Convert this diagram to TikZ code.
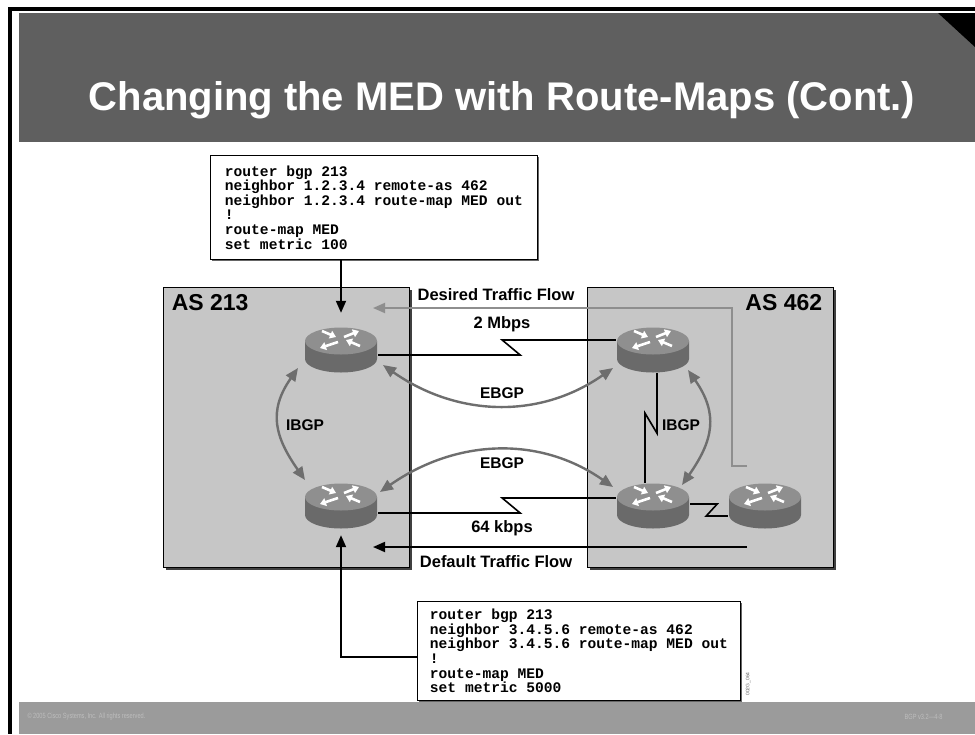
\documentclass[tikz,border=0pt]{standalone}
\usepackage{fontspec}
\setmainfont{Liberation Sans}
\newfontfamily\codefont{Liberation Mono}
\usetikzlibrary{arrows.meta,shadows}

\definecolor{hdrgray}{HTML}{5F5F5F}
\definecolor{ftrgray}{HTML}{9B9B9B}
\definecolor{ftrtext}{HTML}{BDBDBD}
\definecolor{asgray}{HTML}{C6C6C6}
\definecolor{bgpgray}{HTML}{6E6E6E}
\definecolor{flowgray}{HTML}{8E8E8E}
\definecolor{rtrtop}{HTML}{8F8F8F}
\definecolor{rtrside}{HTML}{6A6A6A}

\tikzset{
  router/.style={minimum width=74pt, minimum height=46pt, inner sep=0pt},
  rtrarrow/.style={white, line width=2.6pt, -{Triangle[length=6pt,width=8pt]}},
  asbox/.style={draw=black, line width=0.8pt, fill=asgray, minimum width=246pt, minimum height=280pt,
    drop shadow={shadow xshift=3pt, shadow yshift=-3pt, fill=black!75, opacity=1}},
  cfgbox/.style={draw=black, line width=0.8pt, fill=white, align=left, anchor=north west,
    font=\codefont\bfseries\fontsize{14.6}{14.6}\selectfont, inner xsep=12pt,
    drop shadow={shadow xshift=1.5pt, shadow yshift=-1.5pt, fill=black!60, opacity=1}},
  serial/.style={black, line width=1.6pt},
  bgp/.style={bgpgray, line width=2.4pt, {Triangle[length=13pt,width=11pt]}-{Triangle[length=13pt,width=11pt]}},
  blkflow/.style={black, line width=1.8pt, -{Triangle[length=12pt,width=10pt]}},
  desflow/.style={flowgray, line width=1.8pt, -{Triangle[length=12pt,width=10pt]}},
  lbl/.style={font=\bfseries\fontsize{16.5}{16.5}\selectfont},
  bgplbl/.style={font=\bfseries\fontsize{15.5}{15.5}\selectfont},
  aslbl/.style={font=\bfseries\fontsize{23}{23}\selectfont, anchor=north west, inner sep=0pt},
  ftr/.style={text=ftrtext, font=\fontsize{7.5}{7.5}\selectfont},
}

\begin{document}
\begin{tikzpicture}[x=1pt, y=-1pt]
\useasboundingbox (0,0) rectangle (975,734);

%Slide frame
\fill[white] (0,0) rectangle (975,734);
\fill[black] (8,7) rectangle (975,11);
\fill[black] (8,7) rectangle (12,734);
\fill[hdrgray] (19,13) rectangle (975,142);
\fill[black] (938,13) -- (975,13) -- (975,47) -- cycle;
\fill[ftrgray] (19,702) rectangle (975,734);
\node[white, anchor=base, font=\bfseries\fontsize{40}{40}\selectfont] (title) at (502,110) {Changing the MED with Route-Maps (Cont.)};

%Footer
\node[ftr, anchor=west] (copy) at (24,717) {\scalebox{0.75}[1]{© 2005 Cisco Systems, Inc. All rights reserved.}};
\node[ftr, anchor=east] (course) at (946,717) {\scalebox{0.75}[1]{BGP v3.2—4-8}};

%AS boxes
\node[asbox] (as213) at (286,427) {};
\node[asbox] (as462) at (710,427) {};
\node[aslbl] (as213lbl) at ([shift={(9,8)}]as213.north west) {AS 213};
\node[aslbl, anchor=north east] (as462lbl) at ([shift={(-11,8)}]as462.north east) {AS 462};

%Routers
\node[router] (r213a) at (341,350) {};
\node[router] (r213b) at (341,506) {};
\node[router] (r462a) at (653,350) {};
\node[router] (r462b) at (653,506) {};
\node[router] (r462c) at (765,506) {};

%Serial links
\draw[serial] ([yshift=-5pt]r213a.east) -- ++(142,0) -- ++(-18,-15) -- ([yshift=10pt]r462a.west);
\draw[serial] ([yshift=-7pt]r213b.east) -- ++(142,0) -- ++(-18,-15) -- ([yshift=8pt]r462b.west);
\draw[serial] ([xshift=4pt]r462a.south) -- ++(0,60) -- ++(-12,-20) -- ([xshift=-8pt]r462b.north);
\draw[serial] ([yshift=2pt]r462b.east) -- ++(27,0) -- ++(-11,12) -- ([yshift=-10pt]r462c.west);

%Router icons
\foreach \r in {r213a,r213b,r462a,r462b,r462c}{
  \fill[rtrside] ([shift={(-36,-9)}]\r.center) -- ([shift={(-36,9)}]\r.center)
    arc[start angle=180, end angle=0, x radius=36, y radius=13.5] -- ([shift={(36,-9)}]\r.center) -- cycle;
  \fill[rtrtop] ([shift={(0,-9)}]\r.center) ellipse [x radius=36, y radius=13.5];
  \draw[rtrarrow] ([shift={(-19,-19)}]\r.center) -- ([shift={(-5,-13)}]\r.center);
  \draw[rtrarrow] ([shift={(19,-4)}]\r.center) -- ([shift={(5,-10)}]\r.center);
  \draw[rtrarrow] ([shift={(3,-13)}]\r.center) -- ([shift={(18,-19)}]\r.center);
  \draw[rtrarrow] ([shift={(-3,-8)}]\r.center) -- ([shift={(-21,-2)}]\r.center);
}

%BGP sessions
\draw[bgp] ([shift={(42,15)}]r213a.center) to[out=-35, in=-145] ([shift={(-40,18)}]r462a.center);
\draw[bgp] ([shift={(39,-14)}]r213b.center) to[out=35, in=145] ([shift={(-40,-19)}]r462b.center);
\draw[bgp] ([shift={(-43,18)}]r213a.center) to[out=-125, in=125, looseness=1.2] ([shift={(-36,-26)}]r213b.center);
\draw[bgp] ([shift={(35,20)}]r462a.center) to[out=-55, in=55, looseness=1.2] ([shift={(29,-21)}]r462b.center);

%Traffic flows
\draw[desflow] ([shift={(-18,-40)}]r462c.center) -- ++(-15,0) |- ([shift={(32,-42)}]r213a.center);
\draw[blkflow] ([shift={(-18,41)}]r462c.center) -- ([shift={(32,41)}]r213b.center);

%Labels
\node[lbl] (desired) at (496,295) {Desired Traffic Flow};
\node[lbl] (default) at (496,562) {Default Traffic Flow};
\node[lbl] (bw2m) at (502,324) {2 Mbps};
\node[lbl] (bw64k) at (502,528) {64 kbps};
\node[bgplbl] (ebgpa) at (502,393) {EBGP};
\node[bgplbl] (ebgpb) at (502,463) {EBGP};
\node[bgplbl] (ibgpa) at (305,425) {IBGP};
\node[bgplbl] (ibgpb) at (681,425) {IBGP};

%Configs
\node[cfgbox, minimum width=327pt, minimum height=104pt] (cfgtop) at (210,155) {router bgp 213\\neighbor 1.2.3.4 remote-as 462\\neighbor 1.2.3.4 route-map MED out\\!\\route-map MED\\set metric 100};
\node[cfgbox, minimum width=323pt, minimum height=99pt] (cfgbot) at (417,601) {router bgp 213\\neighbor 3.4.5.6 remote-as 462\\neighbor 3.4.5.6 route-map MED out\\!\\route-map MED\\set metric 5000};
\node[rotate=90, text=black!60, font=\fontsize{5}{5}\selectfont] (figid) at (748,684) {002G\_064};

\draw[blkflow, shorten >=14pt] (cfgtop.south -| r213a) -- (r213a.north);
\draw[blkflow, shorten >=6pt] ([yshift=-6pt]cfgbot.west) -| (r213b.south);

\end{tikzpicture}
\end{document}
